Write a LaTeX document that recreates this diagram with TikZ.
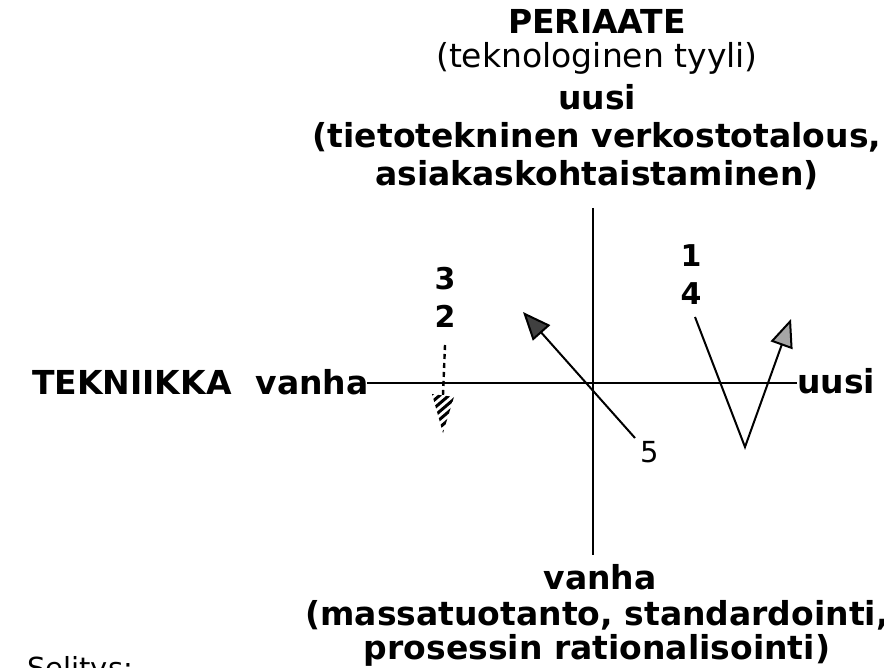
\documentclass[tikz,border=0pt]{standalone}
\usepackage{fontspec}
\setmainfont{DejaVu Sans}
\usetikzlibrary{arrows.meta}
\begin{document}
\begin{tikzpicture}[x=1pt,y=-1pt,
  bigb/.style={font=\fontsize{33}{38}\selectfont\bfseries, anchor=base, inner sep=0pt},
  bigr/.style={font=\fontsize{33}{38}\selectfont, anchor=base, inner sep=0pt},
  numb/.style={font=\fontsize{30}{34}\selectfont\bfseries, inner sep=0pt},
  numr/.style={font=\fontsize{29}{33}\selectfont, inner sep=0pt},
  axisline/.style={line width=2.4pt},
  trend/.style={line width=2pt, -{Triangle[length=28pt,width=23pt,fill=gray!70]}},
]
\useasboundingbox (0,0) rectangle (884,668);

% top texts
\node[bigb] (t1) at (597,34) {PERIAATE};
\node[bigr] (t2) at (597,68) {(teknologinen tyyli)};
\node[bigb] (t3) at (597,110) {uusi};
\node[bigb] (t4) at (597,148) {(tietotekninen verkostotalous,};
\node[bigb] (t5) at (597,186) {asiakaskohtaistaminen)};

% bottom texts
\node[bigb] (b1) at (600,589) {vanha};
\node[bigb] (b2) at (597,625) {(massatuotanto, standardointi,};
\node[bigb] (b3) at (597,659) {prosessin rationalisointi)};

% axis labels
\node[bigb, anchor=base west] (left) at (32,395) {TEKNIIKKA\hspace{24pt}vanha};
\node[bigb, anchor=base west] (right) at (797,394) {uusi};

% axes
\coordinate (O) at (593,383);
\coordinate (vt) at (593,208);
\coordinate (vb) at (593,555);
\draw[axisline] ([xshift=-2pt]left.east |- O) -- (right.west |- O);
\draw[axisline] (vt) -- (vb);

% arrow 5
\coordinate (a5s) at (635,438);
\coordinate (a5e) at (523,312);
\draw[trend, -{Triangle[length=28pt,width=23pt,fill=black!75]}] (a5s) -- (a5e);
\node[numr] (n5) at (650,452) {5};

% V arrow (1,4)
\coordinate (v1) at (695,317);
\coordinate (v2) at (745,447);
\coordinate (v3) at (791,319);
\draw[trend] (v1) -- (v2) -- (v3);
\node[numb] (n1) at (691,256) {1};
\node[numb] (n4) at (691,294) {4};

% dashed arrow (3,2)
\node[numb] (n3) at (445,279) {3};
\node[numb] (n2) at (445,316) {2};
\coordinate (d1) at (445,345);
\coordinate (d2) at (443,395);
\draw[line width=2.4pt, dash pattern=on 5pt off 4pt] (d1) -- (d2);
\coordinate (h1) at (432,394);
\coordinate (h2) at (454,397);
\coordinate (h3) at (443,433);
\begin{scope}
  \clip (h1) -- (h2) -- (h3) -- cycle;
  \foreach \i in {0,...,6}
    \draw[line width=3pt] (425,400+8*\i) -- (460,370+8*\i);
\end{scope}

% legend (cut off at the lower edge, as in the reference)
\node[numr, anchor=base west] (sel) at (27,678) {Selitys:};
\end{tikzpicture}
\end{document}
